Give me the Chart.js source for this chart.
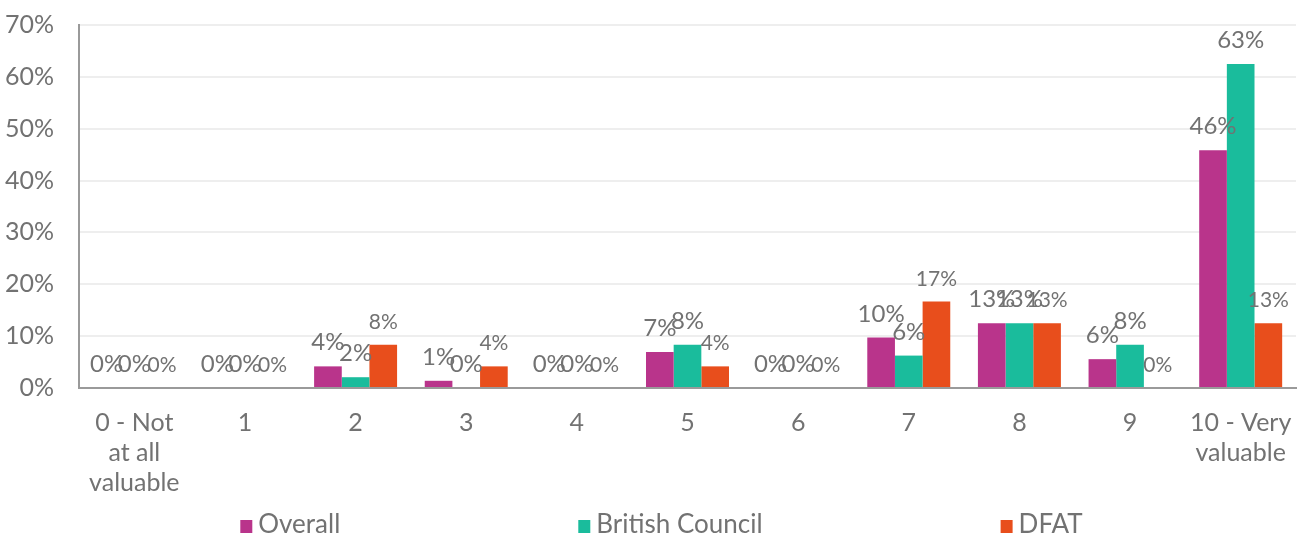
<!DOCTYPE html>
<html>
<head>
<meta charset="utf-8">
<script src="https://cdn.jsdelivr.net/npm/chart.js@4/dist/chart.umd.min.js"></script>
<style>
  html, body { margin: 0; padding: 0; background: #fff; }
  #wrap { width: 1313px; height: 540px; position: relative; }
</style>
</head>
<body>
<div id="wrap"><canvas id="chart"></canvas></div>
<script>
const categories = [
  ['0 - Not', 'at all', 'valuable'], '1', '2', '3', '4', '5', '6', '7', '8', '9', ['10 - Very', 'valuable']
];
const overall = [0, 0, 4.17, 1.39, 0, 6.94, 0, 9.72, 12.5, 5.56, 45.83];
const britishCouncil = [0, 0, 2.08, 0, 0, 8.33, 0, 6.25, 12.5, 8.33, 62.5];
const dfat = [0, 0, 8.33, 4.17, 0, 4.17, 0, 16.67, 12.5, 0, 12.5];

const textGrey = '#727272';
const fontFamily = 'Lato, "Open Sans", sans-serif';

// value labels above each bar
const barLabels = {
  id: 'barLabels',
  afterDatasetsDraw(chart) {
    const ctx = chart.ctx;
    ctx.save();
    ctx.fillStyle = textGrey;
    ctx.textAlign = 'center';
    ctx.textBaseline = 'alphabetic';
    chart.data.datasets.forEach((ds, i) => {
      const meta = chart.getDatasetMeta(i);
      ctx.font = (ds.labelSize || 24) + 'px ' + fontFamily;
      meta.data.forEach((bar, j) => {
        ctx.fillText(Math.round(ds.data[j]) + '%', bar.x, bar.y - 16);
      });
    });
    ctx.restore();
  }
};

// legend row along the bottom, items spaced wide apart
const bottomLegend = {
  id: 'bottomLegend',
  afterDraw(chart) {
    const ctx = chart.ctx;
    const gap = 238, box = 12, boxGap = 6;
    ctx.save();
    ctx.font = '26px ' + fontFamily;
    const items = chart.data.datasets.map(ds => ({
      text: ds.label, color: ds.backgroundColor,
      w: box + boxGap + ctx.measureText(ds.label).width
    }));
    const total = items.reduce((s, it) => s + it.w, 0) + gap * (items.length - 1);
    let x = (chart.width - total) / 2 + 5;
    const y = 525;
    ctx.textBaseline = 'middle';
    ctx.textAlign = 'left';
    items.forEach(it => {
      ctx.fillStyle = it.color;
      ctx.fillRect(x, y - box / 2 + 1, box, box + 1);
      ctx.fillStyle = textGrey;
      ctx.fillText(it.text, x + box + boxGap, y);
      x += it.w + gap;
    });
    ctx.restore();
  }
};

new Chart(document.getElementById('chart'), {
  type: 'bar',
  data: {
    labels: categories,
    datasets: [
      { label: 'Overall', data: overall, backgroundColor: '#B9348B', labelSize: 24 },
      { label: 'British Council', data: britishCouncil, backgroundColor: '#1ABC9C', labelSize: 24 },
      { label: 'DFAT', data: dfat, backgroundColor: '#E84E1C', labelSize: 21 }
    ]
  },
  options: {
    responsive: true,
    maintainAspectRatio: false,
    animation: false,
    layout: { padding: { top: 25, right: 17, bottom: 30, left: 0 } },
    datasets: { bar: { barPercentage: 1, categoryPercentage: 0.75 } },
    plugins: {
      legend: { display: false },
      tooltip: { enabled: false }
    },
    scales: {
      x: {
        grid: { display: false },
        border: { color: '#9a9a9a', width: 2 },
        ticks: {
          color: textGrey, padding: 12,
          maxRotation: 0, autoSkip: false,
          font: { family: fontFamily, size: 25, lineHeight: 1.2 }
        }
      },
      y: {
        min: 0, max: 70,
        afterFit: scale => { scale.width = 79; scale.paddingTop = 0; },
        grid: { color: '#eeeeee', lineWidth: 2, drawTicks: false },
        border: { color: '#9a9a9a', width: 2 },
        ticks: {
          stepSize: 10, color: textGrey, padding: 25,
          font: { family: fontFamily, size: 25 },
          callback: v => v + '%'
        }
      }
    }
  },
  plugins: [barLabels, bottomLegend]
});
</script>
</body>
</html>
